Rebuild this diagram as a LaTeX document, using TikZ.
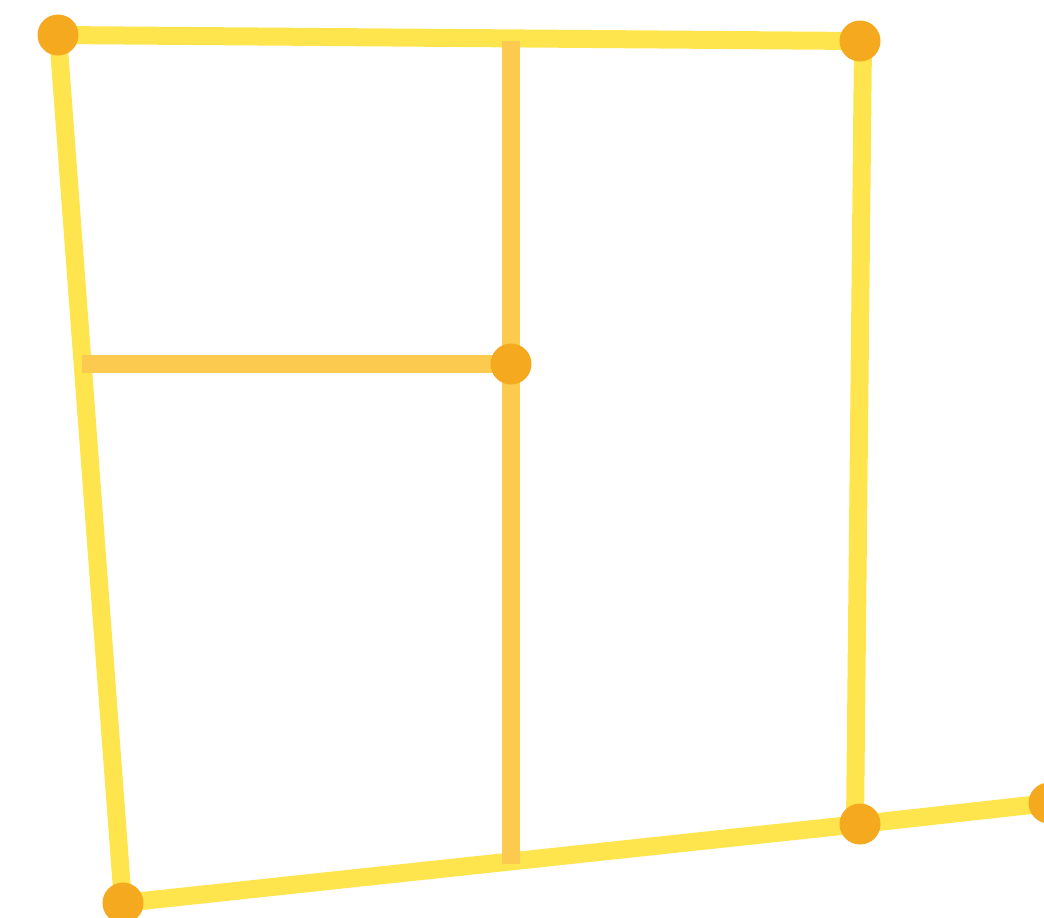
\documentclass[tikz,border=0pt]{standalone}
\usepackage{tikz}
\definecolor{edgeyellow}{HTML}{FFE54D}
\definecolor{braceorange}{HTML}{FCCA4F}
\definecolor{jointorange}{HTML}{F5A91E}

\begin{document}
\begin{tikzpicture}[x=0.02cm, y=-0.02cm,
  edge/.style={line width=0.36cm, edgeyellow},
  brace/.style={line width=0.36cm, braceorange},
  joint/.style={circle, fill=jointorange, inner sep=0pt, minimum size=0.82cm}
]
\useasboundingbox (0,0) rectangle (1044,917);
\coordinate (topleft) at (58,35);
\coordinate (topright) at (860,41);
\coordinate (botright) at (860,824);
\coordinate (botleft) at (123,903);
\coordinate (farright) at (1049,803);
\coordinate (mid) at (511,364);
% right edge sits a little off the joints
\coordinate (sidetop) at (863,41);
\coordinate (sidebot) at (855,824);
\coordinate (bracetop) at (511,41);
\coordinate (bracebot) at (511,864);
\coordinate (braceleft) at (82,364);

\draw[edge] (topleft) -- (topright);
\draw[edge] (sidetop) -- (sidebot);
\draw[edge] (botright) -- (botleft);
\draw[edge] (botleft) -- (topleft);
\draw[edge] (botright) -- (farright);

\draw[brace] (bracetop) -- (mid);
\draw[brace] (mid) -- (bracebot);
\draw[brace] (braceleft) -- (mid);

\node[joint] (j1) at (topleft) {};
\node[joint] (j2) at (topright) {};
\node[joint] (j3) at (botright) {};
\node[joint] (j4) at (botleft) {};
\node[joint] (j5) at (farright) {};
\node[joint] (j6) at (mid) {};
\end{tikzpicture}
\end{document}
